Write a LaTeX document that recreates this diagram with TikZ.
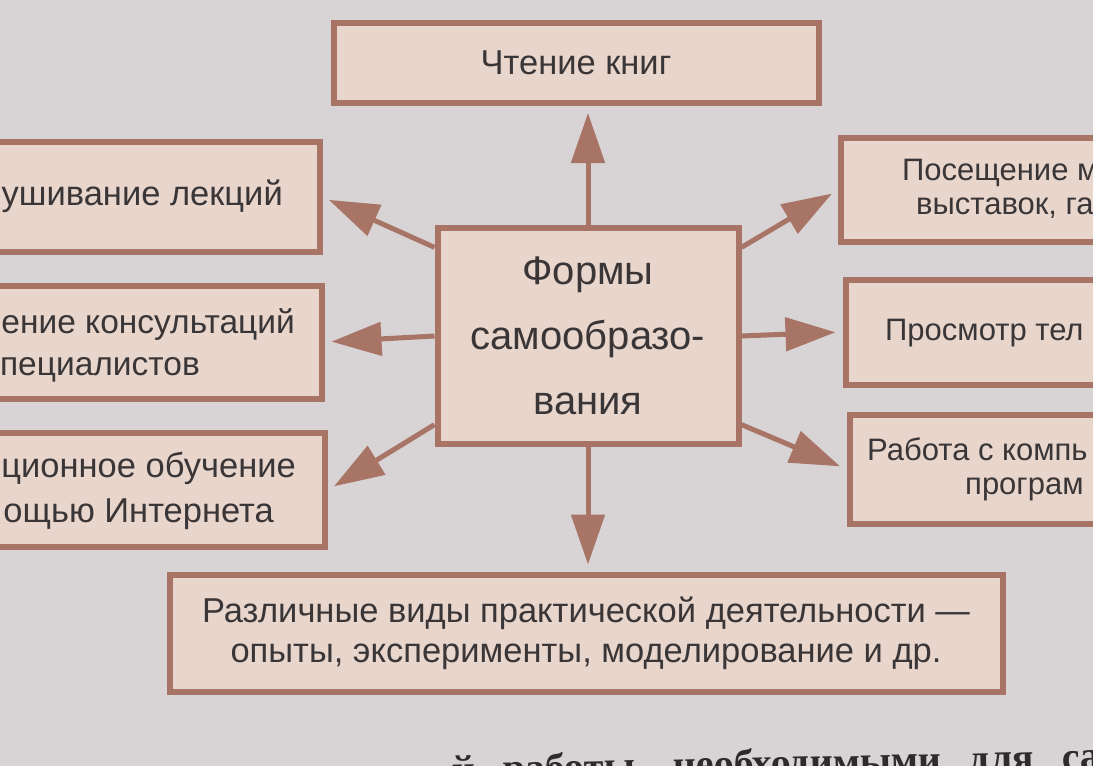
\documentclass[tikz,border=0pt]{standalone}
\usepackage{fontspec}
\setmainfont{Liberation Sans}
\newfontfamily\pageserif[WordSpace=2.8]{Liberation Serif}
\usepackage{xcolor}
\usetikzlibrary{positioning, calc, arrows.meta}
\definecolor{SelfBg}{HTML}{D8D3D5}
\definecolor{SelfFill}{HTML}{E8D5CB}
\definecolor{SelfLine}{HTML}{A87466}
\definecolor{SelfText}{HTML}{3A3637}
\definecolor{PageText}{HTML}{2E2B2C}

\begin{document}
\begin{tikzpicture}[x=1pt,y=-1pt,
  box/.style={draw=SelfLine, fill=SelfFill, line width=6pt, inner sep=0pt,
    text=SelfText, font=\fontsize{34.5}{40}\selectfont},
  lbl/.style={text=SelfText, inner sep=0pt, font=\fontsize{34.5}{40}\selectfont},
  rlbl/.style={lbl, font=\fontsize{31}{40}\selectfont},
  arr/.style={draw=SelfLine, line width=5pt, shorten >=7pt,
    -{Triangle[length=50pt,width=33pt]}}]
  \useasboundingbox (0,0) rectangle (1093,766);
  \clip (0,0) rectangle (1093,766);
  \fill[SelfBg] (0,0) rectangle (1093,766);
  % centre
  \node[box, minimum width=301pt, minimum height=216pt, align=center,
        font=\fontsize{40}{65}\selectfont] (form) at (588,336)
        {Формы\\самообразо-\\вания};
  % boxes round it
  \node[box, minimum width=485pt, minimum height=80pt] (read) at (576,63) {Чтение книг};
  \node[box, minimum width=337pt, minimum height=110pt] (lect) at (151,197) {};
  \node[box, minimum width=339pt, minimum height=113pt] (cons) at (152,342) {};
  \node[box, minimum width=342pt, minimum height=114pt] (dist) at (154,490) {};
  \node[box, minimum width=276pt, minimum height=104pt] (mus)  at (979,190) {};
  \node[box, minimum width=271pt, minimum height=105pt] (tv)   at (981,332) {};
  \node[box, minimum width=267pt, minimum height=109pt] (comp) at (983,469) {};
  \node[box, minimum width=833pt, minimum height=117pt, align=center] (prac) at (586,633)
        {Различные виды практической деятельности ---\\
         опыты, эксперименты, моделирование и др.};
  % cut-off texts
  \node[lbl, anchor=base east] (lectA) at (283,205) {ушивание лекций};
  \node[lbl, anchor=base east, font=\fontsize{33.5}{40}\selectfont] (consA) at (295,333) {ение консультаций};
  \node[lbl, anchor=base east, font=\fontsize{33.5}{40}\selectfont] (consB) at (200,375) {пециалистов};
  \node[lbl, anchor=base east] (distA) at (296,477) {ционное обучение};
  \node[lbl, anchor=base east] (distB) at (274,522) {ощью Интернета};
  \node[rlbl, anchor=base west] (musA)  at (902,180) {Посещение м};
  \node[rlbl, anchor=base west] (musB)  at (916,214) {выставок, га};
  \node[rlbl, anchor=base west] (tvA)   at (885,340) {Просмотр тел};
  \node[rlbl, anchor=base west] (compA) at (867,460) {Работа с компь};
  \node[rlbl, anchor=base west] (compB) at (965,494) {програм};
  % arrows
  \draw[arr] (form.north) -- (form.north |- read.south);
  \draw[arr] (form.150) -- (lect.east);
  \draw[arr] (form.west) -- (cons.east);
  \draw[arr] (form.210) -- (dist.east);
  \draw[arr] (form.30) -- (mus.west);
  \draw[arr] (form.east) -- (tv.west);
  \draw[arr] (form.-30) -- (comp.west);
  \draw[arr] (form.south) -- (form.south |- prac.north);
  % page text below
  \node[anchor=base west, inner sep=0pt, text=PageText, rotate=1.2,
        font=\pageserif\bfseries\fontsize{40}{44}\selectfont] (page) at (452,783)
        {й работы, необходимыми для са};
\end{tikzpicture}
\end{document}
